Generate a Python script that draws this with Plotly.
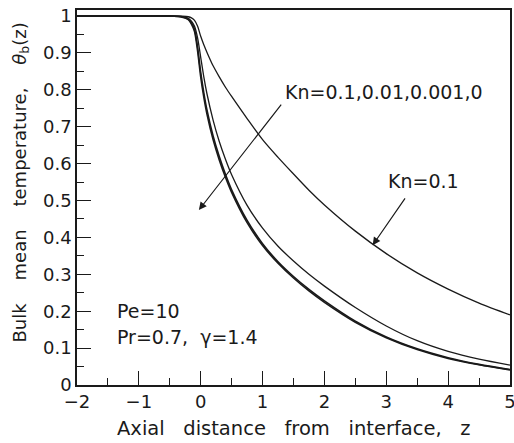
import plotly.graph_objects as go

# Axial positions (z) at which the bulk mean temperature is tabulated
z = [-2.0, -1.0, -0.5, -0.3, -0.2, -0.15, -0.1, -0.05, 0.0, 0.05, 0.1, 0.2, 0.3, 0.4,
     0.5, 0.75, 1.0, 1.25, 1.5, 1.75, 2.0, 2.5, 3.0, 3.5, 4.0, 4.5, 5.0]

# Bulk mean temperature theta_b(z) for each Knudsen number
theta_kn0 = [1.0, 1.0, 1.0, 0.997, 0.99, 0.978, 0.958, 0.905, 0.835, 0.78, 0.735, 0.665, 0.61, 0.563,
             0.522, 0.44, 0.378, 0.33, 0.29, 0.255, 0.224, 0.17, 0.128, 0.096, 0.072, 0.055, 0.041]
theta_kn0001 = [1.0, 1.0, 1.0, 0.998, 0.992, 0.982, 0.964, 0.915, 0.847, 0.792, 0.746, 0.675, 0.619, 0.571,
                0.529, 0.446, 0.383, 0.334, 0.294, 0.259, 0.228, 0.173, 0.13, 0.098, 0.074, 0.056, 0.042]
theta_kn001 = [1.0, 1.0, 1.0, 0.998, 0.994, 0.986, 0.972, 0.94, 0.888, 0.835, 0.79, 0.718, 0.66, 0.612,
               0.57, 0.487, 0.425, 0.376, 0.336, 0.3, 0.268, 0.21, 0.16, 0.12, 0.091, 0.07, 0.054]
theta_kn01 = [1.0, 1.0, 1.0, 0.9995, 0.998, 0.995, 0.988, 0.972, 0.945, 0.922, 0.902, 0.865, 0.835, 0.807,
              0.782, 0.722, 0.665, 0.617, 0.572, 0.528, 0.488, 0.417, 0.356, 0.304, 0.26, 0.222, 0.19]

series = [
    ("Kn=0.1", theta_kn01, 1.3),
    ("Kn=0.01", theta_kn001, 1.3),
    ("Kn=0.001", theta_kn0001, 1.6),
    ("Kn=0", theta_kn0, 1.6),
]

x_ticks = [-2, -1, 0, 1, 2, 3, 4, 5]
y_ticks = [0, 0.1, 0.2, 0.3, 0.4, 0.5, 0.6, 0.7, 0.8, 0.9, 1]
y_ticktext = ["0", "0.1", "0.2", "0.3", "0.4", "0.5", "0.6", "0.7", "0.8", "0.9", "1"]

FONT = "DejaVu Sans"
INK = "#1a1a1a"
SP3 = "\u00a0\u00a0\u00a0"
SP4 = "\u00a0\u00a0\u00a0\u00a0"

fig = go.Figure()
for name, theta, w in series:
    fig.add_trace(go.Scatter(
        x=z, y=theta, mode="lines", name=name,
        line=dict(color=INK, width=w, shape="spline", smoothing=0.8),
        showlegend=False,
    ))

# Arrow through the family of curves, pointing toward decreasing Kn
fig.add_annotation(x=-0.03, y=0.474, ax=1.32, ay=0.764, xref="x", yref="y",
                   axref="x", ayref="y", showarrow=True, arrowhead=2,
                   arrowsize=1.3, arrowwidth=1.2, arrowcolor=INK, text="")
fig.add_annotation(x=2.97, y=0.794, text="Kn=0.1,0.01,0.001,0", showarrow=False,
                   font=dict(family=FONT, size=19, color=INK))
# Arrow marking the Kn=0.1 curve
fig.add_annotation(x=2.78, y=0.379, ax=3.32, ay=0.51, xref="x", yref="y",
                   axref="x", ayref="y", showarrow=True, arrowhead=2,
                   arrowsize=1.3, arrowwidth=1.2, arrowcolor=INK, text="")
fig.add_annotation(x=3.6, y=0.553, text="Kn=0.1", showarrow=False,
                   font=dict(family=FONT, size=19, color=INK))
# Flow parameters
fig.add_annotation(x=-1.39, y=0.2, text="Pe=10", showarrow=False, xanchor="left",
                   font=dict(family=FONT, size=19, color=INK))
fig.add_annotation(x=-1.39, y=0.13, text="Pr=0.7,  γ=1.4", showarrow=False, xanchor="left",
                   font=dict(family=FONT, size=19, color=INK))

# Axis titles
fig.add_annotation(x=0.5, y=-0.115, xref="paper", yref="paper", showarrow=False,
                   xanchor="center", yanchor="middle",
                   text=f"Axial{SP3}distance{SP3}from{SP3}interface,{SP3}z",
                   font=dict(family=FONT, size=19.5, color=INK))
fig.add_annotation(x=-0.1316, y=0.54, xref="paper", yref="paper", showarrow=False,
                   xanchor="center", yanchor="middle", textangle=-90,
                   text=f"Bulk{SP4}mean{SP4}temperature,{SP4}<i>θ</i><sub>b</sub>(z)",
                   font=dict(family=FONT, size=18, color=INK))

axis_common = dict(
    showline=True, linecolor=INK, linewidth=1.6, mirror=True,
    showgrid=False, zeroline=False, automargin=False,
    ticks="inside", ticklen=14, tickwidth=1.3, tickcolor=INK,
    ticklabeloverflow="allow",
    tickfont=dict(family=FONT, size=18, color=INK),
)
fig.update_xaxes(
    range=[-2, 5], tickvals=x_ticks,
    ticktext=[("−" + str(-v)) if v < 0 else str(v) for v in x_ticks],
    minor=dict(ticks="inside", ticklen=7, tickwidth=1.3, tickcolor=INK, dtick=0.5, tick0=0),
    **axis_common,
)
fig.update_yaxes(
    range=[0, 1.0163], tickvals=y_ticks, ticktext=y_ticktext,
    minor=dict(ticks="inside", ticklen=7, tickwidth=1.3, tickcolor=INK, dtick=0.05, tick0=0),
    **axis_common,
)
fig.update_layout(
    width=514, height=443,
    margin=dict(l=77, r=4, t=10, b=58),
    paper_bgcolor="white", plot_bgcolor="white",
)
fig.write_html("out.html")
